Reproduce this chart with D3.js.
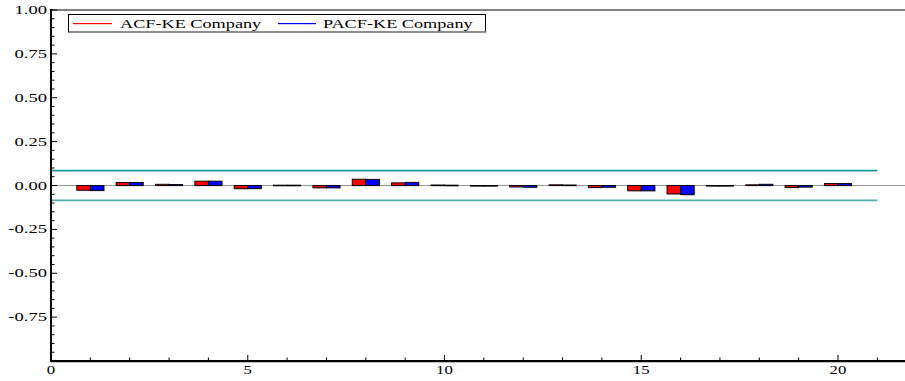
<!DOCTYPE html>
<html>
<head>
<meta charset="utf-8">
<script src="https://cdn.jsdelivr.net/npm/d3@7"></script>
<style>
  html, body { margin: 0; padding: 0; background: #fff; }
  svg { display: block; }
  text { font-family: "Liberation Serif", "Times New Roman", serif; fill: #000; }
</style>
</head>
<body>
<svg id="chart" width="905" height="381"></svg>
<script>
// Lags and autocorrelation estimates
const lags = d3.range(1, 21);
const acf  = [-0.027, 0.017, 0.007, 0.025, -0.018, 0.002, -0.013, 0.036, 0.015, 0.003,
              -0.001, -0.008, 0.004, -0.011, -0.030, -0.048, -0.003, 0.004, -0.011, 0.011];
const pacf = [-0.028, 0.017, 0.006, 0.025, -0.017, 0.002, -0.013, 0.035, 0.018, 0.002,
              -0.001, -0.010, 0.003, -0.010, -0.030, -0.052, -0.002, 0.007, -0.009, 0.011];
const confBand = 0.085;
const yTicks = [1.00, 0.75, 0.50, 0.25, 0.00, -0.25, -0.50, -0.75];
const xTicks = [0, 5, 10, 15, 20];
const seriesNames = ["ACF-KE Company", "PACF-KE Company"];

const svg = d3.select("#chart");
const plotL = 51, plotR = 905, plotT = 10, plotB = 361;

const x = d3.scaleLinear().domain([0, 21.7]).range([plotL, plotL + 21.7 * 39.35]);
const y = d3.scaleLinear().domain([-1, 1]).range([plotB, plotT]);
const barW = x(0.345) - x(0);
const fmt = v => d3.format(".2f")(v).replace("\u2212", "-");

// stretched serif text helper
function label(g, tx, ty, str, anchor, sx, size) {
  return g.append("text")
    .attr("transform", `translate(${tx},${ty}) scale(${sx},1)`)
    .attr("text-anchor", anchor)
    .attr("font-size", size)
    .text(str);
}

// zero line
svg.append("line")
  .attr("x1", plotL).attr("x2", plotR)
  .attr("y1", y(0)).attr("y2", y(0))
  .attr("stroke", "#9a9a9a").attr("stroke-width", 1);

// bars
const bars = svg.append("g");
function drawBars(vals, offset, color) {
  const data = lags.map((l, i) => ({ l, v: vals[i] }));
  // soft shadow
  bars.selectAll(null).data(data).enter().append("rect")
    .attr("x", d => x(d.l) + offset + 1)
    .attr("y", d => Math.min(y(d.v), y(0)) + 1)
    .attr("width", barW)
    .attr("height", d => Math.max(Math.abs(y(d.v) - y(0)), 0.6))
    .attr("fill", "#c8c8c8");
  bars.selectAll(null).data(data).enter().append("rect")
    .attr("x", d => x(d.l) + offset)
    .attr("y", d => Math.min(y(d.v), y(0)))
    .attr("width", barW)
    .attr("height", d => Math.max(Math.abs(y(d.v) - y(0)), 0.6))
    .attr("fill", color)
    .attr("stroke", "#000").attr("stroke-width", 0.9);
}
drawBars(acf, -barW, "#ff0000");
drawBars(pacf, 0, "#0000ff");

// confidence band lines
[confBand, -confBand].forEach((c, i) => {
  svg.append("line")
    .attr("x1", plotL).attr("x2", x(21))
    .attr("y1", y(c)).attr("y2", y(c))
    .attr("stroke", i === 0 ? "#169a92" : "#4fb0aa")
    .attr("stroke-width", 1.6);
});

// axes frame
svg.append("line").attr("x1", plotL).attr("x2", plotL).attr("y1", plotT - 1).attr("y2", plotB + 1)
  .attr("stroke", "#000").attr("stroke-width", 2);
svg.append("line").attr("x1", plotL).attr("x2", plotR).attr("y1", plotB).attr("y2", plotB)
  .attr("stroke", "#000").attr("stroke-width", 2);
svg.append("line").attr("x1", plotL).attr("x2", plotR).attr("y1", plotB + 1.5).attr("y2", plotB + 1.5)
  .attr("stroke", "#bdbdbd").attr("stroke-width", 1);
svg.append("line").attr("x1", plotL).attr("x2", plotR).attr("y1", plotT).attr("y2", plotT)
  .attr("stroke", "#000").attr("stroke-width", 1.2);

// y ticks
const yMinor = d3.range(-1, 1.0001, 0.05).map(v => +v.toFixed(2));
const yt = svg.append("g");
yMinor.forEach(v => {
  const major = Math.abs(Math.round(v * 4) - v * 4) < 1e-6;
  yt.append("line")
    .attr("x1", plotL).attr("x2", plotL + (major ? 6 : 3.5))
    .attr("y1", y(v)).attr("y2", y(v))
    .attr("stroke", "#000").attr("stroke-width", 1);
});
yTicks.forEach(v => {
  label(yt, 47, y(v) + 4, fmt(v), "end", 1.55, 12);
});

// x ticks
const xt = svg.append("g");
d3.range(0, 22).forEach(v => {
  const major = v % 5 === 0;
  xt.append("line")
    .attr("x1", x(v)).attr("x2", x(v))
    .attr("y1", plotB).attr("y2", plotB - (major ? 6 : 3.5))
    .attr("stroke", "#000").attr("stroke-width", 1);
});
xTicks.forEach(v => {
  label(xt, x(v), 374, String(v), "middle", 1.4, 12);
});

// legend
const lg = svg.append("g");
lg.append("rect").attr("x", 68.5).attr("y", 14.5).attr("width", 417).attr("height", 17.5)
  .attr("fill", "#fff").attr("stroke", "#000").attr("stroke-width", 1);
lg.append("rect").attr("x", 69.5).attr("y", 31.5).attr("width", 417).attr("height", 1.2)
  .attr("fill", "#9a9a9a");
lg.append("rect").attr("x", 73).attr("y", 23).attr("width", 39).attr("height", 1.2)
  .attr("fill", "#ff0000");
label(lg, 120, 28, seriesNames[0], "start", 1.52, 12);
lg.append("rect").attr("x", 278).attr("y", 23).attr("width", 38).attr("height", 1.2)
  .attr("fill", "#0000ff");
label(lg, 323, 28, seriesNames[1], "start", 1.52, 12);
</script>
</body>
</html>
